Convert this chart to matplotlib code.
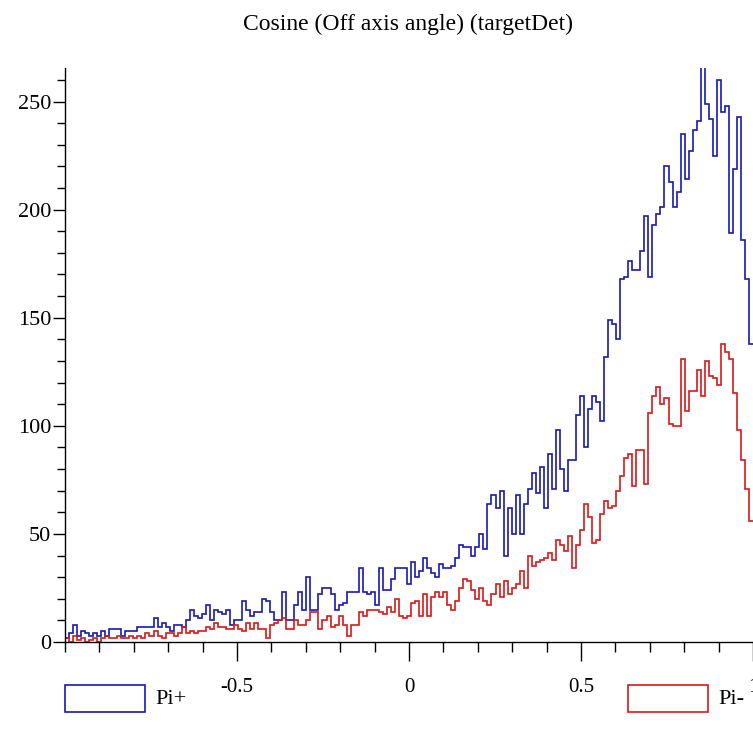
import numpy as np
import matplotlib
matplotlib.use("Agg")
import matplotlib.pyplot as plt
from matplotlib.patches import Rectangle
from matplotlib.ticker import MultipleLocator

# bin contents, left (cos = -1) to right (cos = 1)
pi_plus = [2, 4, 8, 3, 5, 4, 3, 4, 3, 5, 3, 6, 6, 6, 3, 5, 5, 5, 7, 7, 7, 7, 11, 7, 9, 7, 5, 8, 8, 7, 10, 15, 12, 11, 13,
           17, 10, 15, 14, 13, 15, 8, 10, 10, 19, 15, 12, 14, 14, 20, 19, 14, 10, 10, 23, 10, 10, 17, 23, 15, 30, 15, 15, 22, 25, 25, 22, 15,
           17, 18, 23, 23, 23, 34, 23, 22, 23, 17, 34, 24, 24, 29, 34, 34, 34, 27, 37, 30, 33, 39, 34, 32, 30, 36, 34, 34, 35, 39, 45, 44, 44,
           40, 44, 50, 43, 64, 68, 62, 70, 40, 62, 50, 68, 50, 64, 71, 78, 69, 81, 62, 87, 71, 98, 80, 70, 84, 84, 105, 114, 90, 108, 114, 111, 102,
           132, 149, 147, 140, 168, 169, 176, 172, 172, 181, 197, 169, 193, 198, 201, 220, 213, 201, 208, 235, 214, 227, 237, 241, 266,
           249, 242, 225, 260, 245, 248, 189, 219, 243, 186, 168, 138]
pi_minus = [2, 0, 3, 1, 2, 0, 1, 2, 0, 2, 3, 2, 2, 3, 2, 2, 3, 2, 3, 2, 4, 3, 5, 3, 2, 4, 4, 3, 4, 7, 4, 5, 4, 5, 5,
            7, 6, 9, 7, 7, 6, 6, 8, 6, 5, 9, 6, 9, 6, 6, 2, 8, 9, 10, 11, 6, 6, 10, 8, 8, 10, 14, 14, 6, 10, 12, 7, 8,
            12, 8, 3, 8, 8, 14, 12, 15, 15, 15, 14, 13, 16, 14, 20, 12, 11, 12, 18, 19, 12, 22, 12, 21, 23, 21, 23, 17, 15, 19, 25, 29, 28,
            24, 20, 25, 19, 17, 22, 27, 21, 28, 22, 25, 27, 33, 25, 40, 35, 37, 38, 39, 41, 38, 47, 45, 42, 49, 34, 45, 52, 64, 58, 46, 47, 59,
            65, 62, 63, 70, 77, 85, 87, 72, 89, 89, 73, 106, 114, 118, 110, 113, 101, 100, 100, 131, 107, 116, 116, 126, 114,
            130, 123, 122, 119, 138, 134, 131, 115, 98, 84, 71, 56]
labels = ["Pi+", "Pi-"]
title = "Cosine (Off axis angle) (targetDet)"

blue = "#1818b4"
red = "#d81818"

plt.rcParams["font.family"] = ["Liberation Serif", "DejaVu Serif"]

fig = plt.figure(figsize=(7.53, 7.44), dpi=100)
ax = fig.add_axes([65 / 753, 1 - 642 / 744, 1 - 65 / 753, (642 - 68) / 744])

edges = np.linspace(-1, 1, len(pi_plus) + 1)
ax.stairs(pi_plus, edges, baseline=None, color=blue, lw=1.2)
ax.stairs(pi_minus, edges, baseline=None, color=red, lw=1.2)

ax.set_xlim(-1, 1)
ax.set_ylim(0, 265.5)
for s in ["top", "right"]:
    ax.spines[s].set_visible(False)
for s in ["left", "bottom"]:
    ax.spines[s].set_linewidth(1.0)

ax.xaxis.set_minor_locator(MultipleLocator(0.1))
ax.yaxis.set_major_locator(MultipleLocator(50))
ax.yaxis.set_minor_locator(MultipleLocator(10))
ax.set_xticks([-0.5, 0, 0.5, 1])
ax.set_xticklabels(["-0.5", "0", "0.5", "1"])
ax.tick_params(axis="x", which="major", length=14, width=1, labelsize=15, pad=12)
ax.tick_params(axis="x", which="minor", length=7, width=1)
ax.tick_params(axis="y", which="major", length=9, width=1, labelsize=16, pad=1)
ax.tick_params(axis="y", which="minor", length=6, width=1)

fig.text(408 / 753, 1 - 24 / 744, title, ha="center", va="center", fontsize=17)

# legend boxes below the axes
for (x0, lab, col) in [(65, labels[0], blue), (628, labels[1], red)]:
    fig.patches.append(Rectangle((x0 / 753, 1 - 712 / 744), 80 / 753, 27 / 744,
                                 transform=fig.transFigure, fill=False, edgecolor=col, lw=1.2))
    fig.text((x0 + 90) / 753, 1 - 700 / 744, lab, ha="left", va="center", fontsize=16)

fig.savefig("out.png", dpi=100)
